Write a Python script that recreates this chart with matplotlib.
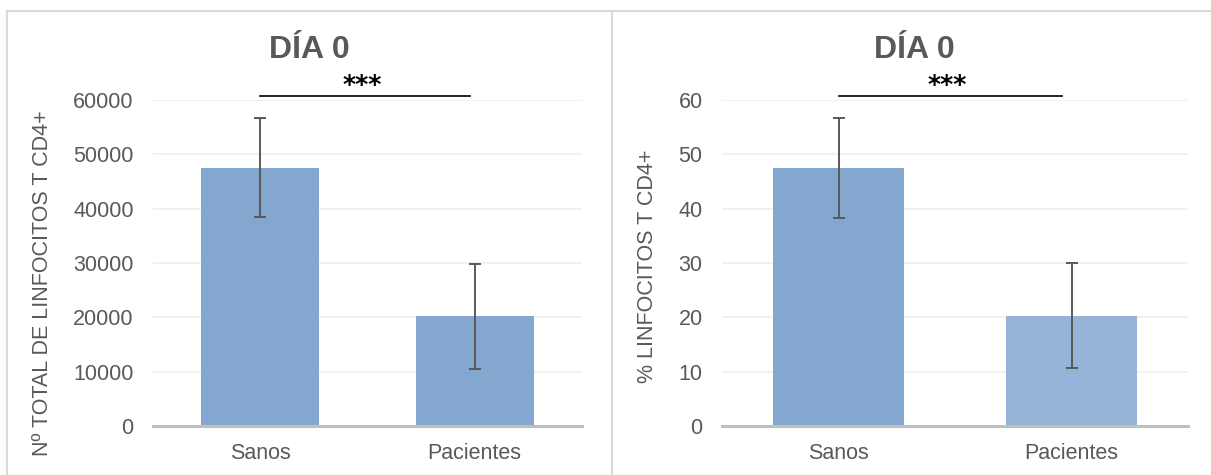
import matplotlib
matplotlib.use("Agg")
import matplotlib.pyplot as plt
from matplotlib.lines import Line2D

# Datos
categorias = ["Sanos", "Pacientes"]
total_cd4 = [47550, 20200]
total_cd4_err = [9150, 9700]
pct_cd4 = [47.5, 20.3]
pct_cd4_err = [9.2, 9.7]

titulo = "DÍA 0"
ylabel_total = "Nº TOTAL DE LINFOCITOS T CD4+"
ylabel_pct = "% LINFOCITOS T CD4+"

plt.rcParams['font.family'] = ['Liberation Sans', 'DejaVu Sans']
gris = "#595959"

W, H = 1211, 475
fig = plt.figure(figsize=(W / 100, H / 100), dpi=100)

# marcos de los paneles
fig.add_artist(Line2D([7 / W, 7 / W], [0, 1 - 11 / H], color="#D9D9D9", lw=1.5))
fig.add_artist(Line2D([7 / W, 1], [1 - 11 / H, 1 - 11 / H], color="#D9D9D9", lw=1.5))
fig.add_artist(Line2D([612 / W, 612 / W], [0, 1 - 11 / H], color="#D9D9D9", lw=1.5))


def draw_panel(ax, values, errs, colors, bar_width, ymax, ystep, ylabel, sig_x, star_x):
    x = range(len(categorias))
    ax.bar(x, values, width=bar_width, color=colors, zorder=2)
    ax.errorbar(x, values, yerr=errs, fmt="none", ecolor=gris, elinewidth=1.4,
                capsize=4, capthick=1.4, zorder=3)
    ax.set_xlim(-0.5, 1.5)
    ax.set_ylim(0, ymax)
    ax.set_yticks([i * ystep for i in range(7)])
    ax.set_xticks(list(x))
    ax.set_xticklabels(categorias)
    ax.grid(axis="y", color="#EFEFEF", lw=1.2, zorder=0)
    ax.set_axisbelow(True)
    for s in ["top", "right", "left"]:
        ax.spines[s].set_visible(False)
    ax.spines["bottom"].set_color("#BFBFBF")
    ax.spines["bottom"].set_linewidth(2.2)
    ax.spines["bottom"].set_zorder(4)
    ax.tick_params(axis="y", length=0, pad=14, labelsize=15.5, labelcolor=gris)
    ax.tick_params(axis="x", length=0, pad=12, labelsize=15.5, labelcolor=gris)
    ax.set_ylabel(ylabel, fontsize=15.5, color=gris)

    # barra de significacion
    ax.plot(sig_x, [1.0135, 1.0135], color="black", lw=1.2,
            transform=ax.get_xaxis_transform(), clip_on=False)
    ax.text(star_x, 1.008, "***", ha="center", va="bottom", fontsize=18,
            family="DejaVu Sans", fontweight="bold", color="black",
            transform=ax.get_xaxis_transform())


ax1 = fig.add_axes([153 / W, 1 - 426 / H, 429 / W, 326 / H])
draw_panel(ax1, total_cd4, total_cd4_err, ["#84A7CF", "#84A7CF"], 0.55,
           60000, 10000, ylabel_total, [0.0, 0.98], 0.474)
ax1.yaxis.set_label_coords(-(153 - 53) / 429, (426 - 283.5) / 326)

ax2 = fig.add_axes([722 / W, 1 - 426 / H, 466 / W, 326 / H])
draw_panel(ax2, pct_cd4, pct_cd4_err, ["#84A7CF", "#95B3D7"], 0.56,
           60, 10, ylabel_pct, [0.0, 0.96], 0.466)
ax2.yaxis.set_label_coords(-(722 - 658) / 466, (426 - 266.5) / 326)

fig.text(309 / W, 1 - 50 / H, titulo, ha="center", va="center", fontsize=23,
         fontweight="bold", color=gris)
fig.text(914 / W, 1 - 50 / H, titulo, ha="center", va="center", fontsize=23,
         fontweight="bold", color=gris)

fig.savefig("out.png", dpi=100)
